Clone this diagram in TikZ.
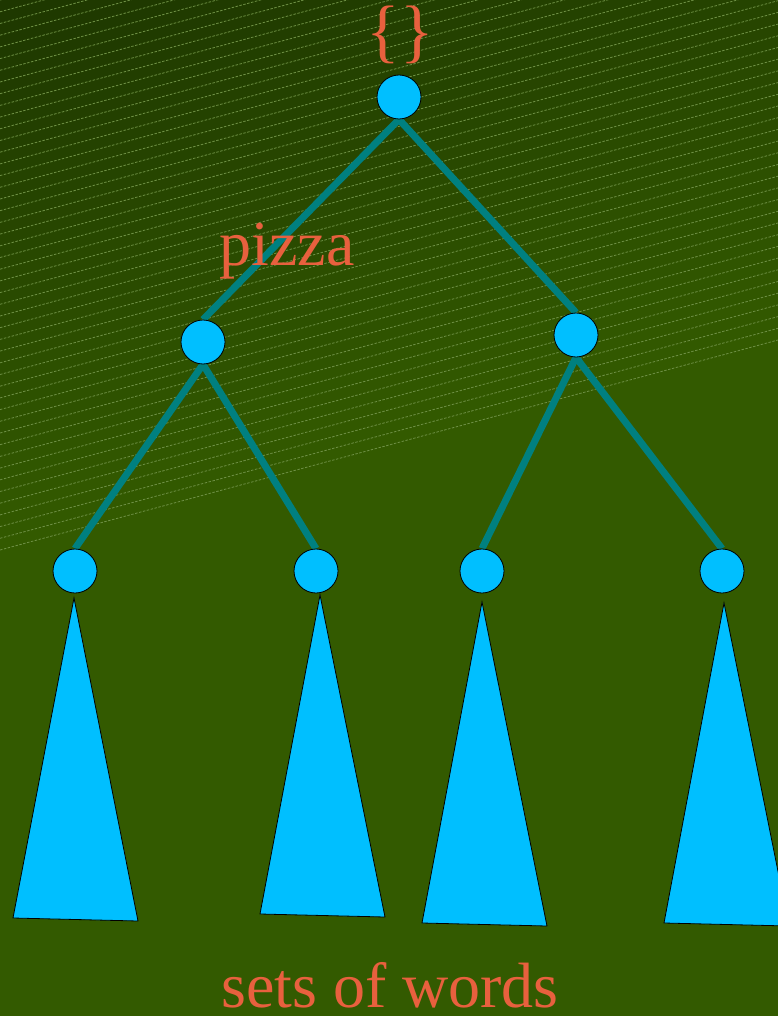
\documentclass[tikz,border=0pt]{standalone}
\usepackage{fontspec}
\setmainfont{Liberation Serif}
\usetikzlibrary{positioning}
\definecolor{BgMain}{HTML}{335A00}
\definecolor{BgTop}{HTML}{1D3600}
\definecolor{Hatch}{HTML}{6E9045}
\definecolor{Sky}{HTML}{00BFFF}
\definecolor{Teal}{HTML}{008080}
\definecolor{Word}{HTML}{E8603E}
\pgfdeclarelayer{bg}
\pgfdeclarelayer{edges}
\pgfsetlayers{bg,edges,main}
\begin{document}
\begin{tikzpicture}[x=1pt,y=-1pt,
  v/.style={circle,draw=black,line width=0.8pt,fill=Sky,minimum size=44pt,inner sep=0pt},
  e/.style={draw=Teal,line width=7pt},
  tri/.style={draw=black,line width=0.8pt,fill=Sky},
  t/.style={text=Word,font=\fontsize{64}{70}\selectfont,anchor=base,inner sep=0pt},
  hatch/.style={draw=Hatch,line width=0.8pt,dash pattern=on 2.5pt off 1.5pt}
]
  \useasboundingbox (0,0) rectangle (778,1016);
  \begin{pgfonlayer}{bg}
    \fill[BgMain] (0,0) rectangle (778,1016);
    \foreach \i [evaluate=\i as \yo using 550-11.7*\i,
                 evaluate=\i as \pc using int(\i*100/47)] in {0,...,47} {
      \fill[BgTop!\pc!BgMain] (0,\yo) -- (778,\yo-210) -- (778,\yo-221.7) -- (0,\yo-11.7) -- cycle;
      \draw[hatch] (0,\yo) -- (778,\yo-210);
    }
  \end{pgfonlayer}
  \node[v] (root) at (399,97) {};
  \node[v] (lm) at (203,342) {};
  \node[v] (rm) at (576,335) {};
  \node[v] (l1) at (75,571) {};
  \node[v] (l2) at (316,571) {};
  \node[v] (l3) at (482,571) {};
  \node[v] (l4) at (722,571) {};
  \begin{pgfonlayer}{edges}
    \draw[e] (root.south) -- (lm.north);
    \draw[e] (root.south) -- (rm.north);
    \draw[e] (lm.south) -- (l1.north);
    \draw[e] (lm.south) -- (l2.north);
    \draw[e] (rm.south) -- (l3.north);
    \draw[e] (rm.south) -- (l4.north);
  \end{pgfonlayer}
  \draw[tri] (74,598) -- (138,921) -- (13,918) -- cycle;
  \draw[tri] (320,595) -- (385,917) -- (260,914) -- cycle;
  \draw[tri] (482,602) -- (547,926) -- (422,923) -- cycle;
  \draw[tri] (724,603) -- (789,926) -- (664,923) -- cycle;
  \node[t,font=\fontsize{70}{76}\selectfont] (braces) at (400,55) {\{\}};
  \node[t] (pizza) at (287,265) {pizza};
  \node[t] (sets) at (390,1007) {sets of words};
\end{tikzpicture}
\end{document}
